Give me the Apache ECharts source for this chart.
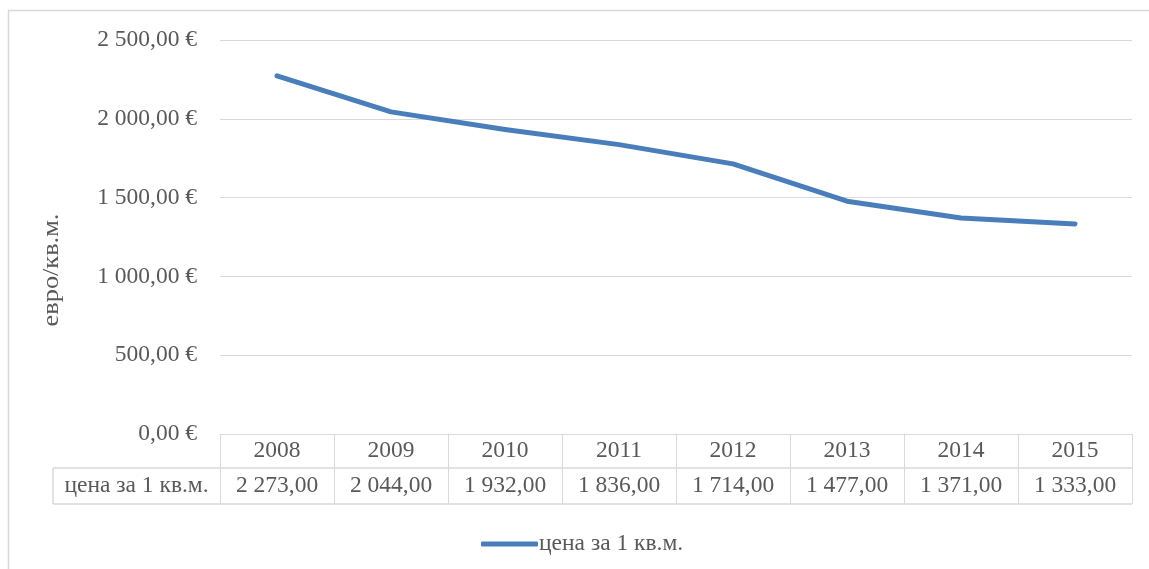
<!DOCTYPE html>
<html>
<head>
<meta charset="utf-8">
<script src="https://cdn.jsdelivr.net/npm/echarts@6/dist/echarts.min.js"></script>
<style>
  html, body { margin: 0; padding: 0; background: #fff; }
  #chart { width: 1149px; height: 569px; }
</style>
</head>
<body>
<div id="chart"></div>
<script>
// Average price per square metre, 2008–2015
const years = ['2008', '2009', '2010', '2011', '2012', '2013', '2014', '2015'];
const prices = [2273, 2044, 1932, 1836, 1714, 1477, 1371, 1333];
const seriesName = 'цена за 1 кв.м.';
const axisTitle = 'евро/кв.м.';

const FONT = '"Liberation Serif", "Times New Roman", serif';
const FS = 23.5;
const TEXT = '#595959';
const GRID = '#d9d9d9';
const LINE = '#4a7ebb';

// "2 273,00" style: space for thousands, comma for decimals
function fmt(v) {
  const parts = v.toFixed(2).split('.');
  const intPart = parts[0].replace(/\B(?=(\d{3})+(?!\d))/g, ' ');
  return intPart + ',' + parts[1];
}

const gridLeft = 220, gridRight = 17, gridTop = 40, gridBottom = 135;
const W = 1149, H = 569;
const axisY = H - gridBottom;          // baseline of the plot / top of the data table
const rowH1 = 34, rowH2 = 36;
const tableLeft = 53;

const chart = echarts.init(document.getElementById('chart'), null, { renderer: 'canvas' });

chart.setOption({
  animation: false,
  backgroundColor: '#fff',
  textStyle: { fontFamily: FONT, color: TEXT },
  grid: { left: gridLeft, right: gridRight, top: gridTop, bottom: gridBottom, containLabel: false },
  xAxis: {
    type: 'category',
    data: years,
    boundaryGap: true,
    axisLine: { show: true, lineStyle: { color: GRID, width: 1 } },
    axisTick: { show: true, interval: 0, alignWithLabel: false, length: rowH1 + rowH2, lineStyle: { color: GRID, width: 1 } },
    axisLabel: {
      interval: 0,
      margin: 0,
      verticalAlign: 'top',
      formatter: function (val, idx) {
        return '{y|' + val + '}\n{v|' + fmt(prices[idx]) + '}';
      },
      rich: {
        y: { fontFamily: FONT, fontSize: FS, color: TEXT, height: rowH1, lineHeight: rowH1, align: 'center' },
        v: { fontFamily: FONT, fontSize: FS, color: TEXT, height: rowH2, lineHeight: rowH2, align: 'center' }
      }
    }
  },
  yAxis: {
    type: 'value',
    min: 0,
    max: 2500,
    interval: 500,
    axisLine: { show: false },
    axisTick: { show: false },
    splitLine: { show: true, lineStyle: { color: GRID, width: 1 } },
    axisLabel: {
      margin: 23,
      fontFamily: FONT,
      fontSize: FS,
      color: TEXT,
      formatter: function (v) { return fmt(v) + ' €'; }
    }
  },
  legend: {
    data: [seriesName],
    left: 476,
    top: 527,
    icon: 'roundRect',
    itemWidth: 57,
    itemHeight: 5,
    itemGap: 0,
    textStyle: { fontFamily: FONT, fontSize: FS, color: TEXT, padding: [0, 0, 0, -4] }
  },
  series: [{
    name: seriesName,
    type: 'line',
    data: prices,
    symbol: 'none',
    smooth: false,
    lineStyle: { color: LINE, width: 5, cap: 'round', join: 'round' },
    itemStyle: { color: LINE }
  }],
  graphic: [
    // outer chart frame
    { type: 'rect', silent: true, z: -1,
      shape: { x: 8.5, y: 10.5, width: 1300, height: 700 },
      style: { fill: 'none', stroke: GRID, lineWidth: 1.5 } },
    // data table horizontal rules
    { type: 'line', silent: true,
      shape: { x1: tableLeft, y1: axisY + rowH1, x2: W - gridRight, y2: axisY + rowH1 },
      style: { stroke: GRID, lineWidth: 1.5 } },
    { type: 'line', silent: true,
      shape: { x1: tableLeft, y1: axisY + rowH1 + rowH2, x2: W - gridRight, y2: axisY + rowH1 + rowH2 },
      style: { stroke: GRID, lineWidth: 1.5 } },
    { type: 'line', silent: true,
      shape: { x1: tableLeft, y1: axisY + rowH1, x2: tableLeft, y2: axisY + rowH1 + rowH2 },
      style: { stroke: GRID, lineWidth: 1.5 } },
    // row header of the data table
    { type: 'text', silent: true,
      style: { text: seriesName, x: (tableLeft + gridLeft) / 2, y: axisY + rowH1 + rowH2 / 2,
               align: 'center', verticalAlign: 'middle',
               font: FS + 'px ' + FONT, fill: TEXT } },
    // vertical axis title
    { type: 'text', silent: true,
      x: 52, y: 270, rotation: Math.PI / 2, scaleX: 1.12, scaleY: 1,
      style: { text: axisTitle, x: 0, y: 0, align: 'center', verticalAlign: 'middle',
               font: FS + 'px ' + FONT, fill: TEXT } }
  ]
});
</script>
</body>
</html>
